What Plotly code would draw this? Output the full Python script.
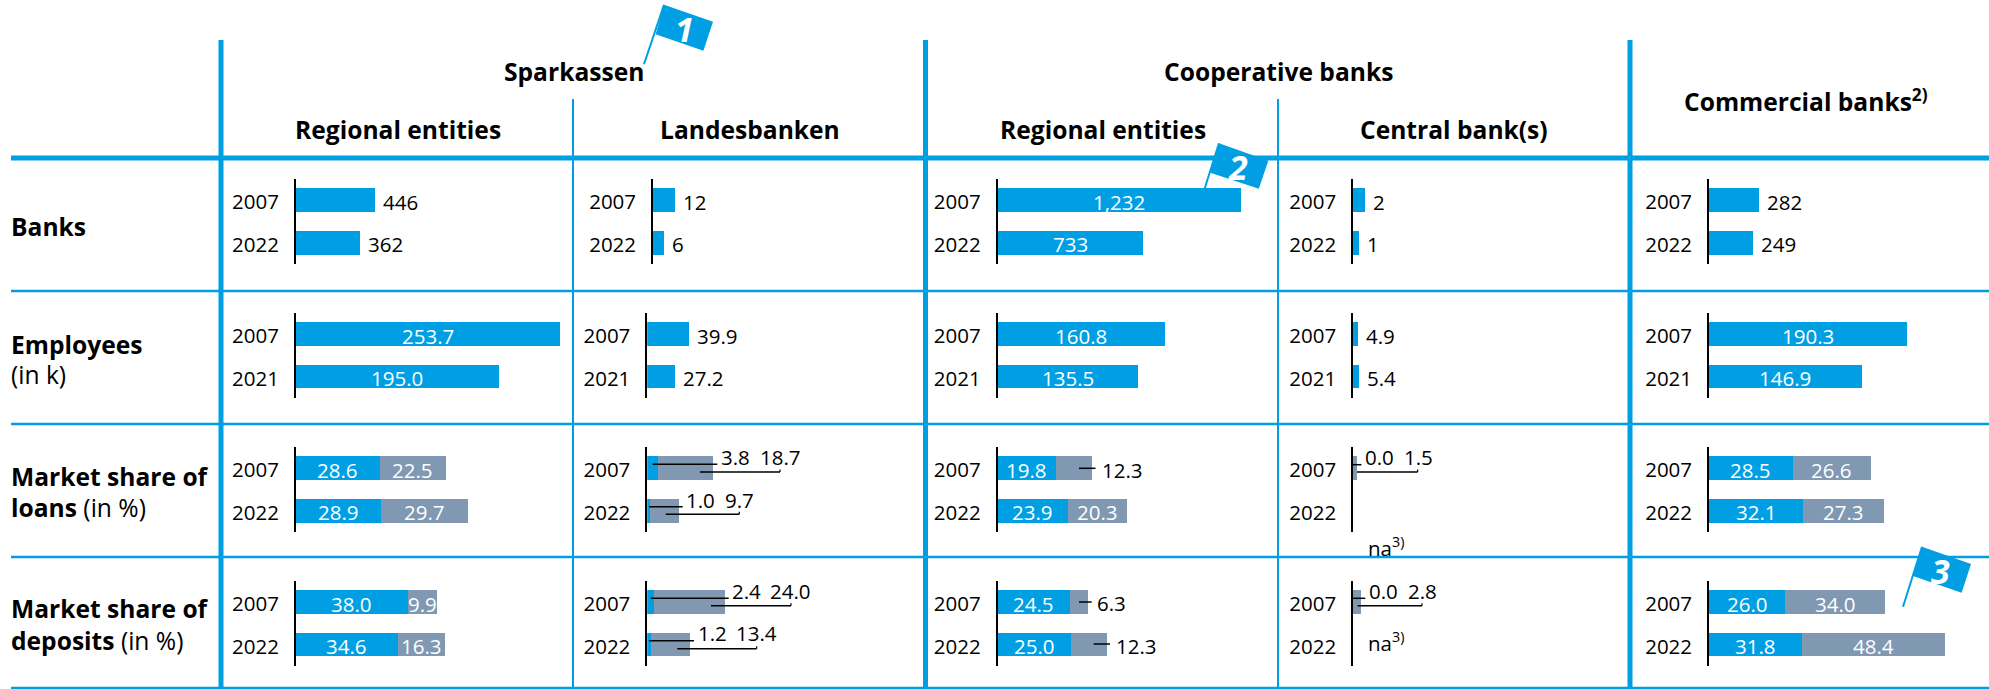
import plotly.graph_objects as go

W, H = 1989, 689
BLUE = "#009FE3"
GREY = "#8098B2"
FONT = "Open Sans"
FS = 20.5

# ---- data -------------------------------------------------------------
columns = ["Sparkassen regional", "Landesbanken", "Cooperative regional", "Central banks", "Commercial banks"]
years_std = ["2007", "2022"]
years_emp = ["2007", "2021"]
banks_values = [[446, 362], [12, 6], [1232, 733], [2, 1], [282, 249]]
employees_values = [[253.7, 195.0], [39.9, 27.2], [160.8, 135.5], [4.9, 5.4], [190.3, 146.9]]
loans_blue = [[28.6, 28.9], [3.8, 1.0], [19.8, 23.9], [0.0, None], [28.5, 32.1]]
loans_grey = [[22.5, 29.7], [18.7, 9.7], [12.3, 20.3], [1.5, None], [26.6, 27.3]]
deposits_blue = [[38.0, 34.6], [2.4, 1.2], [24.5, 25.0], [0.0, None], [26.0, 31.8]]
deposits_grey = [[9.9, 16.3], [24.0, 13.4], [6.3, 12.3], [2.8, None], [34.0, 48.4]]

group_headers = ["Sparkassen", "Cooperative banks"]
sub_headers = ["Regional entities", "Landesbanken", "Regional entities", "Central bank(s)"]

# ---- layout (pixels) ---------------------------------------------------
axis_x = [[295.8, 652.9, 997.5, 1353.0, 1708.9],
          [295.8, 647.2, 997.5, 1353.0, 1708.9],
          [295.8, 647.2, 997.5, 1353.0, 1708.9],
          [295.8, 647.2, 997.5, 1353.0, 1708.9]]
axis_y = [(179, 264), (313, 397.5), (447, 532), (581, 665.7)]
px_per_unit = [[0.177, 1.86, 0.198, 6.0, 0.177], [1.04] * 5, [2.94] * 5, [2.94] * 5]
PANEL_W = 275


def px(x):
    return x / W


def py(y):
    return 1 - y / H


fig = go.Figure()
shapes, ann = [], []


def line(x0, y0, x1, y1, color=BLUE, width=2.5):
    shapes.append(dict(type="line", xref="paper", yref="paper", x0=px(x0), x1=px(x1),
                       y0=py(y0), y1=py(y1), line=dict(color=color, width=width), layer="above"))


def text(x, y, s, size=FS, color="black", xanchor="center"):
    ann.append(dict(xref="paper", yref="paper", x=px(x), y=py(y), text=s, showarrow=False,
                    xanchor=xanchor, yanchor="middle", font=dict(family=FONT, size=size, color=color)))


def vlabel(n, x, idx, s, inside, shift=6):
    # idx is the serial number of the category on the panel's y axis
    ann.append(dict(xref=f"x{n}", yref=f"y{n}", x=x, y=idx, text=s, showarrow=False,
                    xanchor="center" if inside else "left", yanchor="middle", xshift=0 if inside else shift,
                    yshift=-1.5, font=dict(family=FONT, size=FS, color="white" if inside else "black")))


# ---- panels ------------------------------------------------------------
rows = [
    (years_std, banks_values, None, "{:,}"),
    (years_emp, employees_values, None, "{:.1f}"),
    (years_std, loans_blue, loans_grey, "{:.1f}"),
    (years_std, deposits_blue, deposits_grey, "{:.1f}"),
]
inside_single = {(0, 2), (1, 0), (1, 2), (1, 4)}
# grey segments labelled inside the bar: (row, col, year index)
inside_grey = {(2, 0, 0), (2, 0, 1), (2, 2, 1), (2, 4, 0), (2, 4, 1),
               (3, 0, 0), (3, 0, 1), (3, 4, 0), (3, 4, 1)}
# short tick leader next to a grey segment: (row, col, idx): (x0, x1, y, label left)
tick_leaders = {
    (2, 2, 0): (1079, 1095.5, 468.3, 1099.6),
    (3, 2, 0): (1079, 1091.7, 602, 1094.5),
    (3, 2, 1): (1093.6, 1110, 644, 1114),
}
# double leaders: (row, col, idx): (blue label cx, grey label cx, label cy, l1x0, l1x1, l1y, l2x0, l2x1, l2y)
double_leaders = {
    (2, 1, 0): (735, 780, 456.5, 652.7, 717.3, 464.3, 700, 780, 472),
    (2, 1, 1): (700, 739, 499.5, 649, 682.7, 506.7, 665.7, 739.3, 514.3),
    (3, 1, 0): (746, 790.7, 590.5, 650.7, 728.7, 598.3, 711, 791, 605.7),
    (3, 1, 1): (712, 756.7, 633, 649, 694, 640.7, 677.3, 756.7, 648.7),
    (2, 3, 0): (1379, 1418, 456.5, 1352.5, 1361.4, 464.7, 1357, 1417.6, 472),
    (3, 3, 0): (1383, 1422.7, 590.5, 1352.5, 1365.3, 598.3, 1357.6, 1422, 605.7),
}

layout_axes = {}
n = 0
for r, (years, first, second, fmt) in enumerate(rows):
    top, bottom = axis_y[r]
    for c in range(5):
        n += 1
        left = axis_x[r][c]
        a = first[c]
        fig.add_trace(go.Bar(y=years, x=a, orientation="h", marker=dict(color=BLUE, line_width=0),
                             xaxis=f"x{n}", yaxis=f"y{n}", showlegend=False, hoverinfo="skip",
                             name=columns[c]))
        b = second[c] if second else None
        if b:
            fig.add_trace(go.Bar(y=years, x=b, orientation="h", marker=dict(color=GREY, line_width=0),
                                 xaxis=f"x{n}", yaxis=f"y{n}", showlegend=False, hoverinfo="skip",
                                 name=columns[c]))
        sfx = "" if n == 1 else str(n)
        layout_axes["xaxis" + sfx] = dict(domain=[px(left), px(left + PANEL_W)],
                                          range=[0, PANEL_W / px_per_unit[r][c]], visible=False,
                                          anchor=f"y{n}", fixedrange=True)
        layout_axes["yaxis" + sfx] = dict(domain=[py(bottom), py(top)], anchor=f"x{n}",
                                          type="category", categoryorder="array", categoryarray=years,
                                          range=[1.495, -0.495], showline=True, linecolor="black",
                                          linewidth=1.5, ticks="", showgrid=False, zeroline=False,
                                          ticklabelstandoff=11, ticklabelshift=-2, fixedrange=True,
                                          tickfont=dict(family=FONT, size=FS, color="black"))
        for i, year in enumerate(years):
            if a[i] is None:
                continue
            if b is None:
                s = fmt.format(a[i])
                if (r, c) in inside_single:
                    vlabel(n, a[i] / 2, i, s, True)
                else:
                    vlabel(n, a[i], i, s, False)
                continue
            key = (r, c, i)
            if key in double_leaders:
                d = double_leaders[key]
                text(d[0], d[2], fmt.format(a[i]))
                text(d[1], d[2], fmt.format(b[i]))
                line(d[3], d[5], d[4], d[5], "black", 1.5)
                line(d[6], d[8], d[7], d[8], "black", 1.5)
                line(d[7], d[8], d[7], d[8] - 2.5, "black", 1.2)
                continue
            vlabel(n, a[i] / 2, i, fmt.format(a[i]), True)
            if key in inside_grey:
                vlabel(n, a[i] + b[i] / 2, i, fmt.format(b[i]), True)
            else:
                t = tick_leaders[key]
                line(t[0], t[2], t[1], t[2], "black", 1.5)
                text(t[3], (top + bottom) / 2 + (-20 if i == 0 else 23), fmt.format(b[i]), xanchor="left")

# na labels in the central-bank panels
text(1366, 546.7, "na<sup>3)</sup>", xanchor="left")
text(1366, 641.7, "na<sup>3)</sup>", xanchor="left")

# ---- table rules -------------------------------------------------------
line(11, 158, 1989, 158, width=5)
for y in (291, 424, 557, 688):
    line(11, y, 1989, y, width=2.5)
for x in (221, 925.5, 1630):
    line(x, 40, x, 689, width=5)
for x in (573, 1278):
    line(x, 99, x, 689, width=2)

# ---- headers -----------------------------------------------------------
HS = 24.6
text(574, 71.7, f"<b>{group_headers[0]}</b>", HS)
text(1278, 71.7, f"<b>{group_headers[1]}</b>", HS)
text(397.6, 130, f"<b>{sub_headers[0]}</b>", HS)
text(749.7, 130, f"<b>{sub_headers[1]}</b>", HS)
text(1102.5, 130, f"<b>{sub_headers[2]}</b>", HS)
text(1454, 130, f"<b>{sub_headers[3]}</b>", HS)
text(1806, 100, "<b>Commercial banks<sup>2)</sup></b>", HS)

LX = 8.5
text(LX, 226.7, "<b>Banks</b>", HS, xanchor="left")
text(LX, 344, "<b>Employees</b>", HS, xanchor="left")
text(LX, 375, "(in k)", HS, xanchor="left")
text(LX, 476, "<b>Market share of</b>", HS, xanchor="left")
text(LX, 507.7, "<b>loans</b> (in %)", HS, xanchor="left")
text(LX, 608, "<b>Market share of</b>", HS, xanchor="left")
text(LX, 640, "<b>deposits</b> (in %)", HS, xanchor="left")

# ---- numbered flags ----------------------------------------------------
flags = [
    ("1", (664, 4.7), (713, 21.7), (703.4, 50.7), (655.6, 34.3), (644, 64.3), (684.3, 29)),
    ("2", (1219, 143.3), (1268.3, 160.7), (1258.8, 188.7), (1210.3, 172.7), (1204.6, 188.7), (1237.7, 166.7)),
    ("3", (1922, 546.7), (1971, 564), (1961.6, 592.7), (1913, 576), (1903, 606.7), (1940.5, 570.7)),
]
for label, p1, p2, p3, p4, pole, centre in flags:
    path = "M " + " L ".join(f"{px(p[0])} {py(p[1])}" for p in (p1, p2, p3, p4)) + " Z"
    shapes.append(dict(type="path", xref="paper", yref="paper", path=path, fillcolor=BLUE,
                       line=dict(width=0), layer="above"))
    line(pole[0], pole[1], p1[0], p1[1], width=2)
    text(centre[0], centre[1], f"<b><i>{label}</i></b>", 34, "white")

fig.update_layout(width=W, height=H, margin=dict(l=0, r=0, t=0, b=0), barmode="stack", bargap=0.447,
                  paper_bgcolor="white", plot_bgcolor="white", showlegend=False,
                  shapes=shapes, annotations=ann, **layout_axes)

fig.write_html("out.html", config={"displayModeBar": False},
               post_script="document.body.style.margin='0';document.documentElement.style.overflow='hidden';")
